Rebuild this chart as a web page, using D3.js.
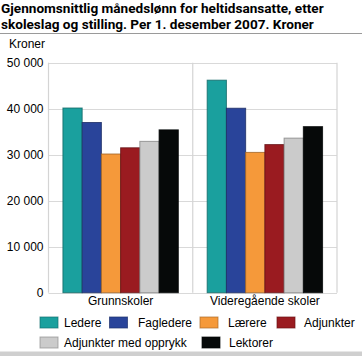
<!DOCTYPE html>
<html><head><meta charset="utf-8">
<script src="https://cdn.jsdelivr.net/npm/d3@7"></script>
<style>body{margin:0;background:#fff}svg{display:block}</style>
</head><body>
<script>
const categories = ["Grunnskoler", "Videregående skoler"];
const series = ["Ledere", "Fagledere", "Lærere", "Adjunkter", "Adjunkter med opprykk", "Lektorer"];
const colors = ["#1aa09e", "#29449a", "#f5993a", "#9a1b20", "#cbcbcb", "#060909"];
const grunnskoler = [40150, 37000, 30150, 31500, 32900, 35400];
const videregaende = [46200, 40100, 30500, 32200, 33600, 36100];
const yTicks = [0, 10000, 20000, 30000, 40000, 50000];
const titleLines = ["Gjennomsnittlig månedslønn for heltidsansatte, etter", "skoleslag og stilling. Per 1. desember 2007. Kroner"];
const unitLabel = "Kroner";

const values = [grunnskoler, videregaende];
const W = 362, H = 356;
const m = {left: 48.5, right: 337, top: 62.7, bottom: 292.7};
const svg = d3.select("body").append("svg").attr("width", W).attr("height", H);

// title (one text, two lines)
svg.append("text").attr("font-family", "Roboto").attr("font-weight", "bold").attr("font-size", 13.6)
  .attr("fill", "#000")
  .selectAll("tspan").data(titleLines).join("tspan")
  .attr("x", 1).attr("y", (d, i) => 12.5 + i * 16).text(d => d);
svg.append("line").attr("x1", 0).attr("x2", W).attr("y1", 33.5).attr("y2", 33.5)
  .attr("stroke", "#9a9a9a").attr("stroke-width", 1);
svg.append("rect").attr("x", 0).attr("y", 351.5).attr("width", W).attr("height", 5).attr("fill", "#cfcfcf");

const x = d3.scaleBand().domain(categories).range([m.left, m.right]).paddingInner(0.2).paddingOuter(0.1);
const x1 = d3.scaleBand().domain(series).range([0, x.bandwidth()]);
const y = d3.scaleLinear().domain([0, 50000]).range([m.bottom, m.top]);

// gridlines
svg.append("g").selectAll("line").data(yTicks).join("line")
  .attr("x1", m.left).attr("x2", m.right)
  .attr("y1", d => Math.round(y(d)) + 0.5).attr("y2", d => Math.round(y(d)) + 0.5)
  .attr("stroke", "#d9d9d9").attr("stroke-width", 1.2);
// frame
const frame = svg.append("g").attr("stroke", "#d4d4d4").attr("stroke-width", 1.2).attr("fill", "none");
frame.append("line").attr("x1", m.left).attr("x2", m.left).attr("y1", m.top).attr("y2", m.bottom);
frame.append("line").attr("x1", m.right).attr("x2", m.right).attr("y1", m.top).attr("y2", m.bottom);
const sepX = (x(categories[0]) + x.bandwidth() + x(categories[1])) / 2;
frame.append("line").attr("x1", sepX).attr("x2", sepX).attr("y1", m.top).attr("y2", m.bottom);

// y axis labels
const yAxis = d3.axisLeft(y).tickValues(yTicks).tickSize(0).tickPadding(5)
  .tickFormat(d => d3.format(",")(d).replace(/,/g, " "));
const ya = svg.append("g").attr("transform", `translate(${m.left},0)`).call(yAxis);
ya.select(".domain").remove();
ya.selectAll("text").attr("font-family", "Liberation Sans, Arial").attr("font-size", 12).attr("fill", "#000");

svg.append("text").attr("x", 9).attr("y", 48).attr("font-family", "Liberation Sans, Arial")
  .attr("font-size", 12).text(unitLabel);

// bars
const groups = svg.append("g").selectAll("g").data(categories).join("g")
  .attr("transform", d => `translate(${x(d)},0)`);
groups.selectAll("rect").data((c, ci) => series.map((s, si) => ({s, si, v: values[ci][si]}))).join("rect")
  .attr("x", d => x1(d.s)).attr("width", x1.bandwidth())
  .attr("y", d => y(d.v)).attr("height", d => y(0) - y(d.v))
  .attr("fill", d => colors[d.si])
  .attr("stroke", d => d3.color(colors[d.si]).darker(1.2)).attr("stroke-opacity", 0.8).attr("stroke-width", 1);

// x axis labels
const xAxis = d3.axisBottom(x).tickSize(0).tickPadding(4);
const xa = svg.append("g").attr("transform", `translate(0,${m.bottom})`).call(xAxis);
xa.select(".domain").remove();
xa.selectAll("text").attr("font-family", "Liberation Sans, Arial").attr("font-size", 12).attr("fill", "#000");

// legend
const legendPos = [[40, 317, 64], [109.5, 317, 138], [200, 317, 228], [277, 317, 304], [40, 337, 64], [202, 337, 229]];
const lg = svg.append("g").selectAll("g").data(series).join("g");
lg.append("rect").attr("x", (d, i) => legendPos[i][0]).attr("y", (d, i) => legendPos[i][1])
  .attr("width", 18).attr("height", 11).attr("fill", (d, i) => colors[i])
  .attr("stroke", (d, i) => d3.color(colors[i]).darker(1)).attr("stroke-opacity", 0.7);
lg.append("text").attr("x", (d, i) => legendPos[i][2]).attr("y", (d, i) => legendPos[i][1] + 10)
  .attr("font-family", "Liberation Sans, Arial").attr("font-size", 12).text(d => d);
</script>
</body></html>
